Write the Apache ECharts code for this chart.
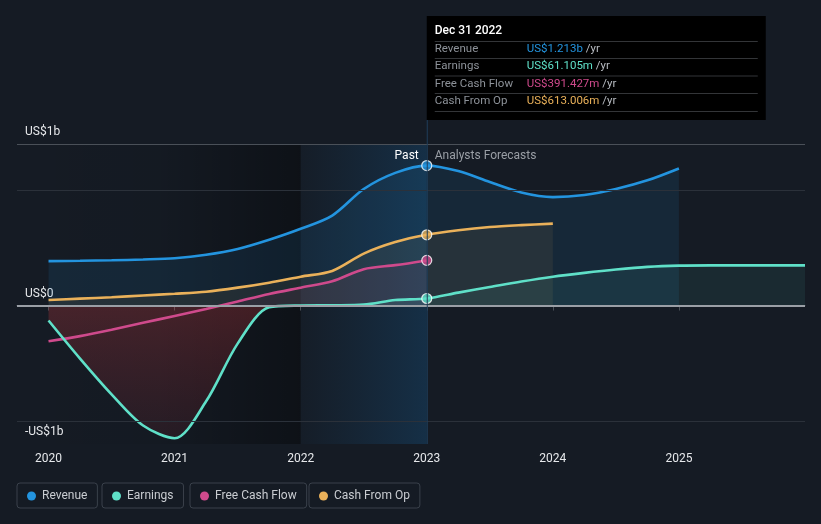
<!DOCTYPE html>
<html>
<head>
<meta charset="utf-8">
<script src="https://cdn.jsdelivr.net/npm/echarts@6/dist/echarts.min.js"></script>
<style>
html,body{margin:0;padding:0;background:#151b24;}
#c{width:821px;height:524px;}
</style>
</head>
<body>
<div id="c"></div>
<script>
// ---- data (values in US$ billions, x in fractional years) ----
const revenueYears  = [2020, 2020.25, 2020.5, 2020.75, 2021, 2021.25, 2021.5, 2021.75, 2022, 2022.25, 2022.5, 2022.75, 2023, 2023.25, 2023.5, 2023.75, 2024, 2024.25, 2024.5, 2024.75, 2025];
const revenueValues = [0.385, 0.388, 0.392, 0.399, 0.41, 0.44, 0.49, 0.57, 0.665, 0.78, 1.01, 1.15, 1.213, 1.165, 1.07, 0.98, 0.94, 0.958, 1.01, 1.085, 1.188];

const earningsYears  = [2020, 2020.25, 2020.5, 2020.75, 2021, 2021.25, 2021.5, 2021.75, 2022, 2022.25, 2022.5, 2022.75, 2023, 2023.25, 2023.5, 2023.75, 2024, 2024.25, 2024.5, 2024.75, 2025, 2025.25, 2025.5, 2025.75, 2026];
const earningsValues = [-0.13, -0.46, -0.77, -1.04, -1.15, -0.83, -0.33, -0.015, 0.0, 0.002, 0.008, 0.048, 0.061, 0.112, 0.16, 0.208, 0.25, 0.283, 0.312, 0.335, 0.346, 0.348, 0.348, 0.348, 0.348];

const fcfYears  = [2020, 2020.25, 2020.5, 2020.75, 2021, 2021.25, 2021.5, 2021.75, 2022, 2022.25, 2022.5, 2022.75, 2023];
const fcfValues = [-0.31, -0.265, -0.21, -0.15, -0.09, -0.03, 0.035, 0.1, 0.155, 0.21, 0.315, 0.35, 0.391];

const cfoYears  = [2020, 2020.25, 2020.5, 2020.75, 2021, 2021.25, 2021.5, 2021.75, 2022, 2022.25, 2022.5, 2022.75, 2023, 2023.25, 2023.5, 2023.75, 2024];
const cfoValues = [0.048, 0.06, 0.072, 0.087, 0.102, 0.12, 0.155, 0.198, 0.25, 0.30, 0.45, 0.55, 0.613, 0.652, 0.68, 0.697, 0.71];

const xTickYears = [2020, 2021, 2022, 2023, 2024, 2025];
const yGridValues = [1.4, 1.0, -1.0];
const yLabelValues = [1.4, 0, -1.2];
const yLabelTexts = ['US$1b', 'US$0', '-US$1b'];

const currentYear = 2023;
const tooltipTitle = 'Dec 31 2022';
const tooltipLabels = ['Revenue', 'Earnings', 'Free Cash Flow', 'Cash From Op'];
const tooltipValues = ['US$1.213b', 'US$61.105m', 'US$391.427m', 'US$613.006m'];
const currentValues = [1.213, 0.061105, 0.391427, 0.613006];

const seriesNames = ['Revenue', 'Earnings', 'Free Cash Flow', 'Cash From Op'];
const colors = ['#2394df', '#5fe0c8', '#cf4a8c', '#eab15a'];

const bands = [[2019.75, 2022, 0], [2022, 2023, 1]];

// ---- helpers ----
const zip = (xs, ys) => xs.map((x, i) => [x, ys[i]]);
const FONT = 'Roboto, "Noto Sans", sans-serif';
const SMOOTH = 0.3;

const chart = echarts.init(document.getElementById('c'), null, {renderer: 'canvas'});

const bandFills = [
  new echarts.graphic.LinearGradient(0, 0, 1, 0, [
    {offset: 0, color: 'rgba(0,0,0,0)'},
    {offset: 0.5, color: 'rgba(0,0,0,0.05)'},
    {offset: 1, color: 'rgba(0,0,0,0.36)'}
  ]),
  new echarts.graphic.LinearGradient(0, 0, 1, 0, [
    {offset: 0, color: 'rgba(25,95,150,0.03)'},
    {offset: 1, color: 'rgba(22,100,160,0.28)'}
  ])
];

const lineSeries = (name, data, color, z) => ({
  name, type: 'line', data, smooth: SMOOTH, showSymbol: false, symbol: 'none',
  color, lineStyle: {color, width: 2.6}, z, silent: true
});
const areaSeries = (data, fill, z) => ({
  type: 'line', data, smooth: SMOOTH, showSymbol: false, symbol: 'none',
  lineStyle: {width: 0, opacity: 0}, areaStyle: {color: fill, origin: 0}, z, silent: true
});

const option = {
  animation: false,
  backgroundColor: '#151b24',
  textStyle: {fontFamily: FONT},
  grid: {left: 17, right: 16, top: 144, bottom: 80, containLabel: false, outerBoundsMode: 'none'},
  xAxis: {
    type: 'value', min: 2019.75, max: 2026,
    axisLine: {show: true, lineStyle: {color: '#4a5058', width: 1}},
    axisTick: {show: true, customValues: xTickYears, length: 5, lineStyle: {color: '#4a5058'}},
    axisLabel: {customValues: xTickYears, color: '#e6e8eb', fontSize: 12, margin: 9, fontFamily: FONT,
      formatter: v => String(Math.round(v))},
    splitLine: {show: false}
  },
  yAxis: {
    type: 'value', min: -1.2, max: 1.4, interval: 0.2,
    axisLine: {show: false}, axisTick: {show: false}, splitLine: {show: false},
    axisLabel: {
      inside: true, margin: 8, color: '#e6e8eb', fontSize: 12, fontFamily: FONT,
      verticalAlign: 'bottom', padding: [0, 0, 6, 0],
      showMinLabel: true, showMaxLabel: true,
      formatter: v => {
        const i = yLabelValues.findIndex(t => Math.abs(t - v) < 1e-6);
        return i >= 0 ? yLabelTexts[i] : '';
      }
    }
  },
  legend: seriesNames.map((n, i) => ({
    data: [n], selectedMode: false, icon: 'circle', itemWidth: 9, itemHeight: 9, itemGap: 0,
    top: 483, left: [17, 102, 190, 309][i],
    borderColor: '#3a414b', borderWidth: 1, borderRadius: 3, padding: [7, 10, 6, 10],
    textStyle: {color: '#c9ccd1', fontSize: 12, fontFamily: FONT, padding: [0, 0, 0, 1]}
  })),
  series: [
    {
      type: 'custom', z: 0, silent: true, data: bands, encode: {x: [0, 1]},
      renderItem: (params, api) => {
        const a = api.coord([api.value(0), 0]);
        const b = api.coord([api.value(1), 0]);
        const cs = params.coordSys;
        return {type: 'rect', shape: {x: a[0], y: cs.y, width: b[0] - a[0], height: cs.height},
          style: {fill: bandFills[api.value(2)]}};
      },
      markLine: {
        silent: true, symbol: 'none', label: {show: false},
        lineStyle: {type: 'solid', color: '#2b313a', width: 1},
        data: [
          ...yGridValues.map(v => ({yAxis: v, lineStyle: {color: v === 1.4 ? '#4a5058' : '#2b313a', width: 1, type: 'solid'}})),
          {yAxis: 0, lineStyle: {color: '#9a9fa6', width: 1.8, type: 'solid'}}
        ]
      }
    },
    // area fills
    areaSeries(zip(revenueYears, revenueValues), 'rgba(35,148,223,0.15)', 1),
    areaSeries(zip(cfoYears, cfoValues), 'rgba(234,177,90,0.11)', 1),
    areaSeries(zip(fcfYears, fcfValues.map(v => Math.max(v, 0))), 'rgba(207,74,140,0.10)', 1),
    areaSeries(zip(earningsYears, earningsValues.map(v => Math.max(v, 0))), 'rgba(95,224,200,0.11)', 1),
    areaSeries(zip(earningsYears.filter(y => y <= 2022), earningsValues.filter((v, i) => earningsYears[i] <= 2022).map(v => Math.min(v, 0))),
      new echarts.graphic.LinearGradient(0, 0, 0, 1, [
        {offset: 0, color: 'rgba(190,55,60,0.42)'},
        {offset: 1, color: 'rgba(160,45,55,0.18)'}
      ]), 1),
    // lines
    lineSeries('Revenue', zip(revenueYears, revenueValues), colors[0], 3),
    lineSeries('Cash From Op', zip(cfoYears, cfoValues), colors[3], 3),
    lineSeries('Free Cash Flow', zip(fcfYears, fcfValues), colors[2], 3),
    lineSeries('Earnings', zip(earningsYears, earningsValues), colors[1], 3),
    // current dots
    {
      type: 'scatter', z: 5, silent: true, symbolSize: 10,
      data: currentValues.map((v, i) => ({value: [currentYear, v], itemStyle: {color: colors[i], borderColor: '#ffffff', borderWidth: 1.2}}))
    }
  ]
};
chart.setOption(option);

// ---- overlay: past/forecast labels, vertical line, tooltip box ----
const xc = chart.convertToPixel({xAxisIndex: 0}, currentYear);
const yTop = chart.convertToPixel({yAxisIndex: 0}, 1.4);
const yBot = chart.convertToPixel({yAxisIndex: 0}, -1.2);
const tipLeft = xc, tipTop = 16, tipW = 339, tipH = 104;
const rowY = [49, 66, 84, 101];
const sepY = [41.5, 58.5, 76, 93.5, 111.5];
const graphics = [
  {type: 'line', z: 10, silent: true, shape: {x1: xc + 0.5, y1: tipTop + tipH, x2: xc + 0.5, y2: yBot}, style: {stroke: '#1f3e5a', lineWidth: 1}},
  {type: 'text', z: 10, silent: true, x: xc - 8, y: yTop + 12, style: {text: 'Past', fill: '#ffffff', font: '12px ' + FONT, align: 'right', verticalAlign: 'middle'}},
  {type: 'text', z: 10, silent: true, x: xc + 8, y: yTop + 12, style: {text: 'Analysts Forecasts', fill: '#9a9fa6', font: '12px ' + FONT, align: 'left', verticalAlign: 'middle'}},
  {type: 'rect', z: 20, silent: true, shape: {x: tipLeft, y: tipTop, width: tipW, height: tipH}, style: {fill: '#000000'}},
  {type: 'text', z: 21, silent: true, x: tipLeft + 8, y: 31, style: {text: tooltipTitle, fill: '#ffffff', font: '500 12px ' + FONT, verticalAlign: 'middle'}}
];
sepY.forEach(y => graphics.push({type: 'line', z: 21, silent: true, shape: {x1: tipLeft + 8, y1: y, x2: tipLeft + 331, y2: y}, style: {stroke: '#333538', lineWidth: 1}}));
tooltipLabels.forEach((lab, i) => {
  graphics.push({type: 'text', z: 21, silent: true, x: tipLeft + 8, y: rowY[i], style: {text: lab, fill: '#8d9299', font: '11.5px ' + FONT, verticalAlign: 'middle'}});
  graphics.push({type: 'text', z: 21, silent: true, x: tipLeft + 100, y: rowY[i], style: {
    text: '{v|' + tooltipValues[i] + '}{u| /yr}', verticalAlign: 'middle',
    rich: {v: {fill: colors[i], font: '11.5px ' + FONT}, u: {fill: '#b8bcc2', font: '11.5px ' + FONT}}
  }});
});
chart.setOption({graphic: graphics});
</script>
</body>
</html>
